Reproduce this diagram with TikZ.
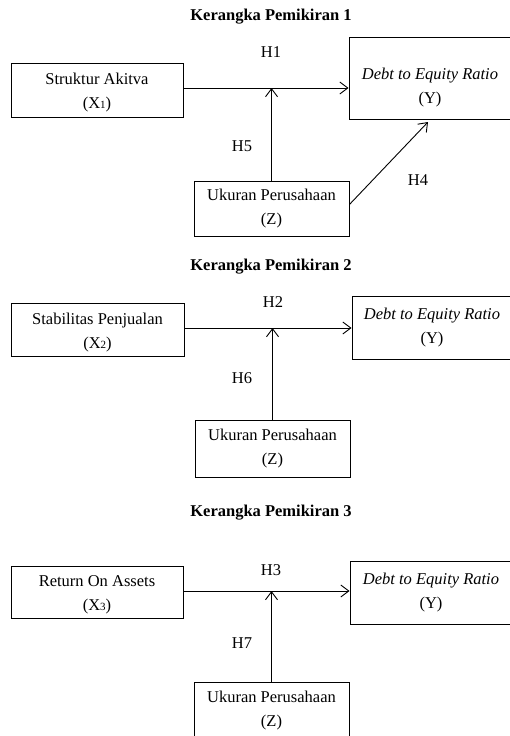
\documentclass[tikz,border=0pt]{standalone}
\usepackage{fontspec}
\setmainfont{Liberation Serif}
\usetikzlibrary{arrows.meta}
\newcommand{\sbs}[1]{{\fontsize{11}{11}\selectfont #1}}
\begin{document}
\begin{tikzpicture}[x=1pt,y=-1pt,
  every node/.style={font=\fontsize{16.5}{24}\selectfont},
  box/.style={draw, line width=0.9pt, inner sep=0pt},
  txt/.style={align=center, inner sep=0pt},
  ttl/.style={font=\fontsize{16.5}{24}\selectfont\bfseries, inner sep=0pt},
  hl/.style={inner sep=0pt},
  arr/.style={line width=0.9pt, -{Straight Barb[length=8pt,width=12pt,line width=0.9pt]}}]
\useasboundingbox (0,0) rectangle (510,736);

% ---------- Diagram 1 ----------
\node[ttl] (t1) at (271,17) {Kerangka Pemikiran 1};
\node[box, minimum width=172pt, minimum height=54pt] (x1) at (97,90) {};
\node[txt] (x1t) at (97,93) {Struktur Akitva\\(X\sbs{1})};
\node[box, minimum width=162pt, minimum height=82pt] (y1) at (430,78) {};
\node[txt] (y1t) at (430,88) {\textit{Debt to Equity Ratio}\\(Y)};
\node[box, minimum width=155pt, minimum height=55pt] (z1) at (271.5,208.5) {};
\node[txt] (z1t) at (271.5,209) {Ukuran Perusahaan\\(Z)};
\coordinate (j1) at (271.5,88);
\draw[arr] (x1.east |- j1) -- (y1.west |- j1);
\draw[arr] (z1.north) -- (j1);
\draw[arr] ([yshift=4pt]z1.east) -- (428,122);
\node[hl] (h1) at (271,52) {H1};
\node[hl] (h5) at (242,146) {H5};
\node[hl] (h4) at (418,180) {H4};

% ---------- Diagram 2 ----------
\node[ttl] (t2) at (271,267) {Kerangka Pemikiran 2};
\node[box, minimum width=173pt, minimum height=53pt] (x2) at (97.5,329.5) {};
\node[txt] (x2t) at (97.5,332.5) {Stabilitas Penjualan\\(X\sbs{2})};
\node[box, minimum width=160pt, minimum height=63pt] (y2) at (432,327.5) {};
\node[txt] (y2t) at (432,327.5) {\textit{Debt to Equity Ratio}\\(Y)};
\node[box, minimum width=155pt, minimum height=57pt] (z2) at (272.5,448.5) {};
\node[txt] (z2t) at (272.5,448.5) {Ukuran Perusahaan\\(Z)};
\coordinate (j2) at (272.5,328);
\draw[arr] (x2.east |- j2) -- (y2.west |- j2);
\draw[arr] (z2.north) -- (j2);
\node[hl] (h2) at (273,302) {H2};
\node[hl] (h6) at (242,378) {H6};

% ---------- Diagram 3 ----------
\node[ttl] (t3) at (271,513) {Kerangka Pemikiran 3};
\node[box, minimum width=172pt, minimum height=52pt] (x3) at (97,592) {};
\node[txt] (x3t) at (97,594.5) {Return On Assets\\(X\sbs{3})};
\node[box, minimum width=162pt, minimum height=63pt] (y3) at (431,592.5) {};
\node[txt] (y3t) at (431,593) {\textit{Debt to Equity Ratio}\\(Y)};
\node[box, minimum width=155pt, minimum height=60pt] (z3) at (271.5,712) {};
\node[txt] (z3t) at (271.5,710.5) {Ukuran Perusahaan\\(Z)};
\coordinate (j3) at (271.5,591);
\draw[arr] (x3.east |- j3) -- (y3.west |- j3);
\draw[arr] (z3.north) -- (j3);
\node[hl] (h3) at (271,570) {H3};
\node[hl] (h7) at (242,643) {H7};
\end{tikzpicture}
\end{document}
